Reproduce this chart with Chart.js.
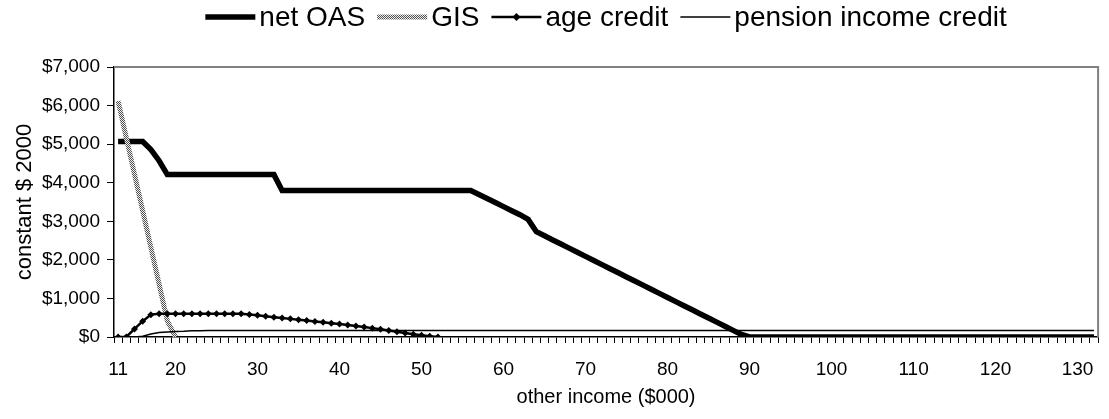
<!DOCTYPE html>
<html>
<head>
<meta charset="utf-8">
<script src="https://cdn.jsdelivr.net/npm/chart.js@4.4.0/dist/chart.umd.min.js"></script>
<style>
  html, body { margin: 0; padding: 0; background: #fff; }
  #wrap { width: 1109px; height: 419px; }
</style>
</head>
<body>
<div id="wrap"><canvas id="chart"></canvas></div>
<script>
// other income ($000), one category per slot
const incomes = [11,
  14, 15, 16, 17, 18, 19, 20, 21, 22, 23, 24, 25, 26, 27, 28, 29, 30, 31, 32, 33,
  34, 35, 36, 37, 38, 39, 40, 41, 42, 43, 44, 45, 46, 47, 48, 49, 50, 51, 52, 53,
  54, 55, 56, 57, 58, 59, 60, 61, 62, 63, 64, 65, 66, 67, 68, 69, 70, 71, 72, 73,
  74, 75, 76, 77, 78, 79, 80, 81, 82, 83, 84, 85, 86, 87, 88, 89, 90, 91, 92, 93,
  94, 95, 96, 97, 98, 99, 100, 101, 102, 103, 104, 105, 106, 107, 108, 109, 110, 111, 112, 113,
  114, 115, 116, 117, 118, 119, 120, 121, 122, 123, 124, 125, 126, 127, 128, 129, 130, 131, 132];

const xTickLabels = [11, 20, 30, 40, 50, 60, 70, 80, 90, 100, 110, 120, 130];

const netOAS = [5070, 5070, 5070, 5070, 4860, 4570, 4210,
  4210, 4210, 4210, 4210, 4210, 4210, 4210, 4210, 4210, 4210, 4210, 4210, 4210,
  3800, 3800, 3800, 3800, 3800, 3800, 3800, 3800, 3800, 3800, 3800, 3800,
  3800, 3800, 3800, 3800, 3800, 3800, 3800, 3800, 3800, 3800, 3800, 3800,
  3695, 3590, 3485, 3380, 3275, 3170, 3050,
  2730, 2623, 2517, 2410, 2304, 2197, 2090, 1984, 1877, 1771, 1664, 1557, 1451,
  1344, 1238, 1131, 1024, 918, 811, 705, 598, 491, 385, 278, 172, 65,
  0, 0, 0, 0, 0, 0, 0, 0, 0, 0, 0, 0, 0, 0, 0, 0, 0, 0, 0, 0, 0, 0,
  0, 0, 0, 0, 0, 0, 0, 0, 0, 0, 0, 0, 0, 0, 0, 0, 0, 0, 0, 0, 0];

const gis = [6120, 5170, 4220, 3270, 2320, 1370, 420, 0];

const ageCredit = [0, 0, 210, 410, 580, 600, 600, 600, 600, 600, 600, 600, 600, 600, 600, 600,
  585, 565, 540, 515, 493, 470, 448, 425, 403, 380, 358, 335, 310, 285, 258, 230,
  200, 170, 138, 105, 72, 45, 20, 0];

const pensionCredit = [0, 0, 0, 20, 80, 115, 130, 145, 150, 160, 165,
  170, 170, 170, 170, 170, 170, 170, 170, 170, 170, 170, 170, 170, 170, 170, 170, 170, 170, 170,
  170, 170, 170, 170, 170, 170, 170, 170, 170, 170, 170, 170, 170, 170, 170, 170, 170, 170, 170,
  170, 170, 170, 170, 170, 170, 170, 170, 170, 170, 170, 170, 170, 170, 170, 170, 170, 170, 170,
  170, 170, 170, 170, 170, 170, 170, 170, 170, 170, 170, 170, 170, 170, 170, 170, 170, 170, 170,
  170, 170, 170, 170, 170, 170, 170, 170, 170, 170, 170, 170, 170, 170, 170, 170, 170, 170, 170,
  170, 170, 170, 170, 170, 170, 170, 170, 170, 170, 170, 170, 170, 170];

const FONT = '"Liberation Sans", Arial, sans-serif';
Chart.defaults.font.family = FONT;
Chart.defaults.color = '#000';

const ctx = document.getElementById('chart').getContext('2d');

// grey stippled stroke like the old Excel pattern line
function stipple() {
  const c = document.createElement('canvas');
  c.width = 2; c.height = 2;
  const g = c.getContext('2d');
  g.fillStyle = '#f0f0f0';
  g.fillRect(0, 0, 2, 2);
  g.fillStyle = '#505050';
  g.fillRect(0, 0, 1, 1);
  g.fillRect(1, 1, 1, 1);
  return ctx.createPattern(c, 'repeat');
}

const frame = {
  id: 'frame',
  beforeDatasetsDraw(chart) {
    const { left, right, top, bottom } = chart.chartArea;
    const c = chart.ctx;
    c.save();
    c.strokeStyle = '#808080';
    c.lineWidth = 2;
    c.beginPath();
    c.moveTo(left, top);
    c.lineTo(right, top);
    c.lineTo(right, bottom);
    c.stroke();
    c.restore();
  }
};

const topLegend = {
  id: 'topLegend',
  afterDraw(chart) {
    const c = chart.ctx;
    c.save();
    c.font = '28px ' + FONT;
    const lineLen = 50, gapText = 4, gapItem = 12;
    const items = chart.data.datasets.map(ds => ({ ds, w: c.measureText(ds.label).width }));
    const total = items.reduce((s, it) => s + lineLen + gapText + it.w, 0) + gapItem * (items.length - 1);
    let x = (chart.chartArea.left + chart.chartArea.right) / 2 - total / 2;
    const y = 17;
    items.forEach(({ ds, w }) => {
      c.strokeStyle = ds.borderColor;
      c.lineWidth = ds.borderWidth;
      c.beginPath();
      c.moveTo(x, y);
      c.lineTo(x + lineLen, y);
      c.stroke();
      if (ds.pointRadius > 0) {
        const r = ds.pointRadius + 0.5, cx = x + lineLen / 2;
        c.fillStyle = '#000';
        c.beginPath();
        c.moveTo(cx - r, y); c.lineTo(cx, y - r); c.lineTo(cx + r, y); c.lineTo(cx, y + r);
        c.closePath();
        c.fill();
      }
      c.fillStyle = '#000';
      c.textBaseline = 'middle';
      c.fillText(ds.label, x + lineLen + gapText, y + 1);
      x += lineLen + gapText + w + gapItem;
    });
    c.restore();
  }
};

new Chart(ctx, {
  type: 'line',
  data: {
    labels: incomes,
    datasets: [
      { label: 'net OAS', data: netOAS, borderColor: '#000', borderWidth: 5.5, pointRadius: 0, order: 4 },
      { label: 'GIS', data: gis, borderColor: stipple(), borderWidth: 5, pointRadius: 0, order: 3 },
      { label: 'age credit', data: ageCredit, borderColor: '#000', borderWidth: 2.5,
        pointStyle: 'rectRot', pointRadius: 3.5, pointBackgroundColor: '#000', pointBorderWidth: 0, order: 2 },
      { label: 'pension income credit', data: pensionCredit, borderColor: '#000', borderWidth: 1.5, pointRadius: 0, order: 1 }
    ]
  },
  options: {
    responsive: true,
    maintainAspectRatio: false,
    animation: false,
    layout: { padding: { top: 67, right: 4, bottom: 0, left: 0 } },
    plugins: { legend: { display: false }, tooltip: { enabled: false } },
    elements: { line: { tension: 0 } },
    scales: {
      x: {
        type: 'category',
        offset: true,
        grid: { drawOnChartArea: false, drawTicks: true, tickLength: 6, color: '#000', offset: true },
        border: { color: '#000', width: 1.5 },
        ticks: {
          autoSkip: false, maxRotation: 0, padding: 15,
          font: { size: 19 },
          callback: (v, i) => xTickLabels.includes(incomes[i]) ? String(incomes[i]) : ''
        },
        title: { display: true, text: 'other income ($000)', font: { size: 20 }, padding: { top: 0, bottom: 10 } },
        afterFit(s) { s.height = 82; }
      },
      y: {
        min: 0, max: 7000,
        grid: { drawOnChartArea: false, tickLength: 7, color: '#000' },
        border: { color: '#000', width: 1.5 },
        ticks: {
          stepSize: 1000, padding: 7, font: { size: 19 },
          callback: v => '$' + v.toLocaleString('en-US')
        },
        title: { display: true, text: 'constant $ 2000', font: { size: 22 }, padding: { top: 12, bottom: 0 } },
        afterFit(s) { s.width = 114; }
      }
    }
  },
  plugins: [frame, topLegend]
});
</script>
</body>
</html>
